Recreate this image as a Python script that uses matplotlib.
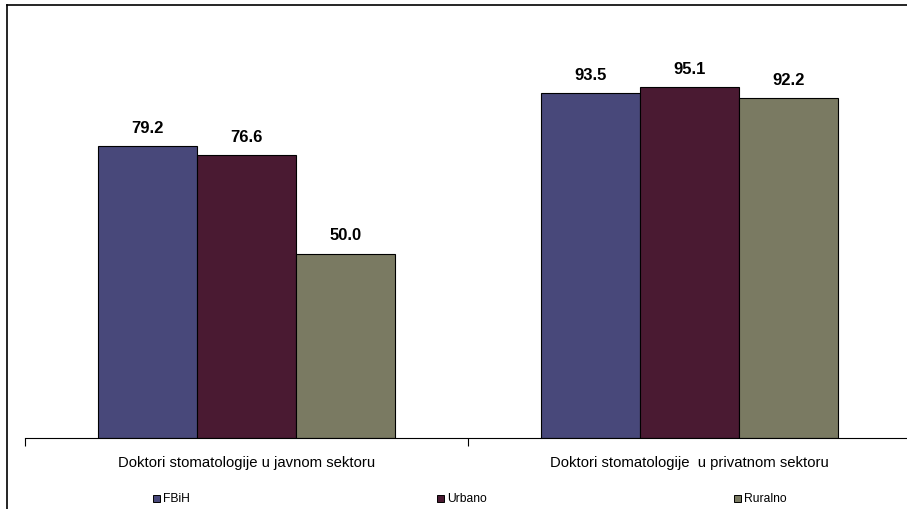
import matplotlib
matplotlib.use("Agg")
import matplotlib.pyplot as plt
from matplotlib.patches import Rectangle
import numpy as np

plt.rcParams['font.family'] = ['Liberation Sans', 'DejaVu Sans']

categories = ["Doktori stomatologije u javnom sektoru",
              "Doktori stomatologije  u privatnom sektoru"]
series = ["FBiH", "Urbano", "Ruralno"]
values = {
    "FBiH": [79.2, 93.5],
    "Urbano": [76.6, 95.1],
    "Ruralno": [50.0, 92.2],
}
colors = {"FBiH": "#48487a", "Urbano": "#4a1a32", "Ruralno": "#7a7a62"}

W, H = 907, 510
fig = plt.figure(figsize=(W / 100, H / 100), dpi=100)

# plot area in pixels: left 25, right 911, baseline 439, top 6
x0, x1, yb, yt = 25, 911, 439, 6
ax = fig.add_axes([x0 / W, (H - yb) / H, (x1 - x0) / W, (yb - yt) / H])
px_per_unit = 3.69
ax.set_ylim(0, (yb - yt) / px_per_unit)
ax.set_xlim(-0.5, 1.5)

x = np.arange(len(categories))
w = 0.2228
for i, s in enumerate(series):
    bars = ax.bar(x + (i - 1) * w, values[s], w, color=colors[s],
                  edgecolor="black", linewidth=0.8)
    for b, v in zip(bars, values[s]):
        ax.text(b.get_x() + b.get_width() / 2, v + 3.0, f"{v:.1f}",
                ha="center", va="bottom", fontsize=12, fontweight="bold")

for sp in ["top", "right", "left"]:
    ax.spines[sp].set_visible(False)
ax.spines["bottom"].set_linewidth(0.8)
ax.set_yticks([])
ax.set_xticks([-0.5, 0.5, 1.5])
ax.set_xticklabels([])
ax.tick_params(axis="x", direction="out", length=6, width=0.8)
for xi, c in zip(x, categories):
    ax.text(xi, -6.6, c, ha="center", va="center", fontsize=10.7)

# outer frame (left and top edges visible)
fig.add_artist(plt.Line2D([7 / W, 7 / W], [0, 1 - 6 / H], color="black", lw=1.2,
                          transform=fig.transFigure))
fig.add_artist(plt.Line2D([7 / W, 1], [1 - 6 / H, 1 - 6 / H], color="black", lw=1.2,
                          transform=fig.transFigure))

# legend
leg_x = [153, 437, 734]
leg_y = 499
for lx, s in zip(leg_x, series):
    fig.add_artist(Rectangle((lx / W, (H - leg_y - 3.5) / H), 7 / W, 7 / H,
                             facecolor=colors[s], edgecolor="black", lw=0.7,
                             transform=fig.transFigure))
    fig.text((lx + 10) / W, (H - leg_y) / H, s, ha="left", va="center", fontsize=8.7)

fig.savefig("out.png", dpi=100)
